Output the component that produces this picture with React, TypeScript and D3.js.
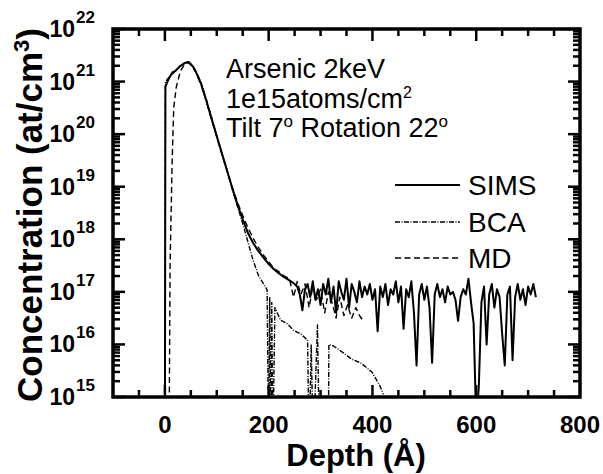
import React, { useEffect, useRef } from 'react';
import * as d3 from 'd3';

// depth in Angstrom, concentration given as log10(at/cm^3)
const simsDepth = [0, 1, 5, 10, 15, 20, 25, 30, 35, 40, 45, 50, 55, 60, 70, 80, 90, 100, 110, 120, 130, 140, 150, 160, 170, 180, 190, 200, 210, 220, 230, 240, 250,
  255, 260, 265, 270, 275, 280, 285, 290, 295, 300, 305, 310, 315, 320, 325, 330, 335, 340, 345, 350, 355, 360, 365, 370, 375, 380, 385, 390, 395, 400,
  405, 410, 415, 420, 425, 430, 435, 440, 445, 450, 455, 460, 465, 470, 475, 480, 485, 490, 495, 500, 505, 510, 515, 520, 525, 530, 535, 540, 545, 550,
  555, 560, 565, 570, 575, 580, 585, 590, 595, 600, 605, 610, 615, 620, 625, 630, 635, 640, 645, 650, 655, 660, 665, 670, 675, 680, 685, 690, 695, 700,
  705, 710, 715];
const simsLog = [14, 20.9, 21.0, 21.1, 21.18, 21.2, 21.25, 21.3, 21.33, 21.36, 21.37, 21.33, 21.27, 21.18, 20.95, 20.63, 20.29, 19.96, 19.63, 19.3, 18.97, 18.66, 18.38, 18.12, 17.93, 17.78, 17.65, 17.53, 17.43, 17.35, 17.28, 17.22, 17.15,
  17.1, 16.95, 16.65, 17.05, 17.15, 16.9, 17.2, 16.85, 17.05, 16.75, 17.15, 16.95, 17.25, 16.8, 17.1, 16.6, 17.2, 17.0, 16.85, 17.25, 16.7, 17.15, 17.0, 16.8, 17.2, 16.9, 17.1, 16.95, 17.15, 16.85,
  17.05, 16.25, 17.1, 16.9, 17.15, 16.75, 17.05, 16.95, 17.2, 16.8, 17.1, 16.3, 17.05, 16.9, 17.2, 16.6, 15.6, 16.95, 17.15, 16.85, 17.1, 16.7, 15.65, 16.95, 17.15, 16.9, 17.05, 16.8, 17.1, 16.95,
  17.0, 16.85, 16.45, 16.9, 17.05, 16.95, 17.25, 16.8, 16.4, 14.5, 15.2, 16.8, 17.1, 16.0, 16.95, 17.15, 16.7, 17.05, 16.9, 16.2, 15.6, 16.95, 17.1, 15.7, 16.9, 17.15, 16.85, 17.05, 16.75, 17.1,
  16.95, 17.15, 16.9];

const bcaDepth = [0, 1, 10, 20, 30, 40, 45, 50, 60, 70, 80, 90, 100, 110, 120, 130, 140, 150, 160, 170, 180, 190, 197, 200, 202, 204, 206, 208, 212, 223, 235, 248, 262, 275, 278, 282, 286, 294, 298,
  315, 316, 325, 344, 360, 377, 390, 400, 415, 421];
const bcaLog = [14, 21.0, 21.1, 21.2, 21.3, 21.36, 21.38, 21.35, 21.2, 20.97, 20.66, 20.32, 19.97, 19.63, 19.3, 18.95, 18.62, 18.3, 17.95, 17.6, 17.32, 17.15, 17.04, 14, 16.9, 14, 16.8, 14, 16.7, 16.46, 16.4, 16.27, 16.2, 16.08, 14, 16.0, 14, 16.37, 14,
  14, 16.0, 15.97, 15.84, 15.72, 15.65, 15.55, 15.46, 15.2, 15.05];

const mdDepth = [8, 10, 14, 17, 22, 30, 38, 45, 52, 60, 70, 80, 90, 100, 110, 120, 130, 140, 150, 160, 170, 180, 190, 200, 210, 220, 230, 240,
  248, 255, 262, 270, 278, 285, 292, 300, 308, 315, 322, 330, 337, 345, 352, 360, 368, 375, 382];
const mdLog = [14, 17.5, 19.5, 20.5, 20.9, 21.2, 21.33, 21.36, 21.3, 21.17, 20.93, 20.62, 20.28, 19.95, 19.62, 19.3, 18.98, 18.7, 18.45, 18.22, 18.02, 17.85, 17.7, 17.57, 17.45, 17.38, 17.3, 17.25,
  16.9, 17.2, 16.95, 17.15, 16.7, 17.1, 16.85, 17.05, 16.6, 17.0, 16.8, 16.5, 16.9, 16.55, 16.75, 16.5, 16.7, 16.55, 16.45];

const xTicks = [0, 200, 400, 600, 800];
const yExps = [15, 16, 17, 18, 19, 20, 21, 22];
const legendNames = ['SIMS', 'BCA', 'MD'];
const infoLines = ['Arsenic 2keV', '1e15atoms/cm', 'Tilt 7'];

const font = 'Liberation Sans, Arial, sans-serif';

const App = () => {
  const svgRef = useRef<SVGSVGElement>(null);

  useEffect(() => {
    document.body.style.margin = '0';
    const width = 603, height = 474;
    const left = 113, right = 580, top = 29, bottom = 397;

    const svg = d3.select(svgRef.current)
      .attr('width', width)
      .attr('height', height)
      .style('display', 'block')
      .style('background', '#fff');
    svg.selectAll('*').remove();

    const x = d3.scaleLinear().domain([-100, 800]).range([left, right]);
    const y = d3.scaleLog().domain([1e15, 1e22]).range([bottom, top]);

    svg.append('clipPath').attr('id', 'plot-clip')
      .append('rect')
      .attr('x', left).attr('y', top)
      .attr('width', right - left).attr('height', bottom - top);

    const line = d3.line<[number, number]>()
      .x(d => x(d[0]))
      .y(d => y(Math.pow(10, d[1])));

    const series = [
      { pts: d3.zip(simsDepth, simsLog) as [number, number][], width: 2, dash: null },
      { pts: d3.zip(bcaDepth, bcaLog) as [number, number][], width: 1.4, dash: '5,1.5,1,1.5' },
      { pts: d3.zip(mdDepth, mdLog) as [number, number][], width: 1.4, dash: '6,3.5' },
    ];

    const plot = svg.append('g').attr('clip-path', 'url(#plot-clip)');
    series.forEach(s => {
      plot.append('path')
        .datum(s.pts)
        .attr('fill', 'none')
        .attr('stroke', '#000')
        .attr('stroke-width', s.width)
        .attr('stroke-dasharray', s.dash)
        .attr('stroke-linejoin', 'round')
        .attr('d', line);
    });

    // ticks, all pointing inward
    const ticks = svg.append('g').attr('stroke', '#000').attr('stroke-width', 2.5);
    const majorLen = 12, minorLen = 7;
    for (let v = -50; v < 800; v += 50) {
      const len = xTicks.includes(v) ? majorLen : minorLen;
      ticks.append('line').attr('x1', x(v)).attr('x2', x(v)).attr('y1', bottom).attr('y2', bottom - len);
      ticks.append('line').attr('x1', x(v)).attr('x2', x(v)).attr('y1', top).attr('y2', top + len);
    }
    yExps.forEach(e => {
      const vals = e < 22 ? [1, 2, 3, 4, 5, 6, 7, 8, 9] : [1];
      vals.forEach(m => {
        const yy = y(m * Math.pow(10, e));
        const len = m === 1 ? majorLen : minorLen;
        ticks.append('line').attr('x1', left).attr('x2', left + len).attr('y1', yy).attr('y2', yy);
        ticks.append('line').attr('x1', right).attr('x2', right - len).attr('y1', yy).attr('y2', yy);
      });
    });

    // frame
    svg.append('rect')
      .attr('x', left).attr('y', top)
      .attr('width', right - left).attr('height', bottom - top)
      .attr('fill', 'none').attr('stroke', '#000').attr('stroke-width', 3.5);

    // tick labels
    svg.append('g').selectAll('text').data(xTicks).join('text')
      .attr('x', d => x(d)).attr('y', 433)
      .attr('text-anchor', 'middle')
      .style('font-family', font).style('font-weight', 'bold').style('font-size', '24px')
      .text(d => d);

    const yl = svg.append('g').style('font-family', font).style('font-weight', 'bold');
    yExps.forEach(e => {
      const yy = y(Math.pow(10, e));
      yl.append('text').attr('x', 75).attr('y', yy + 8).attr('text-anchor', 'end')
        .style('font-size', '23px').text('10');
      yl.append('text').attr('x', 76).attr('y', yy - 6)
        .style('font-size', '17px').text(e);
    });

    // axis titles
    svg.append('text')
      .attr('x', 356).attr('y', 466)
      .attr('text-anchor', 'middle')
      .style('font-family', font).style('font-weight', 'bold').style('font-size', '31px')
      .text('Depth (\u00C5)');

    const yt = svg.append('text')
      .attr('transform', 'translate(42,215) rotate(-90)')
      .attr('text-anchor', 'middle')
      .style('font-family', font).style('font-weight', 'bold').style('font-size', '35px');
    yt.append('tspan').text('Concentration (at/cm');
    yt.append('tspan').attr('dy', -13).style('font-size', '22px').text('3');
    yt.append('tspan').attr('dy', 13).text(')');

    // annotation
    const info = svg.append('g').style('font-family', font).style('font-size', '27px');
    info.append('text').attr('x', 226).attr('y', 78).text(infoLines[0]);
    const t2 = info.append('text').attr('x', 226).attr('y', 108);
    t2.append('tspan').text(infoLines[1]);
    t2.append('tspan').attr('dy', -10).style('font-size', '16px').text('2');
    const t3 = info.append('text').attr('x', 226).attr('y', 137);
    t3.append('tspan').text(infoLines[2]);
    t3.append('tspan').attr('dy', -10).style('font-size', '17px').text('o');
    t3.append('tspan').attr('dy', 10).text(' Rotation 22');
    t3.append('tspan').attr('dy', -10).style('font-size', '17px').text('o');

    // legend
    const legendY = [195, 232, 268];
    legendNames.forEach((name, i) => {
      svg.append('line')
        .attr('x1', 395).attr('x2', 460)
        .attr('y1', legendY[i] - 10).attr('y2', legendY[i] - 10)
        .attr('stroke', '#000')
        .attr('stroke-width', series[i].width)
        .attr('stroke-dasharray', series[i].dash);
      svg.append('text')
        .attr('x', 468).attr('y', legendY[i])
        .style('font-family', font).style('font-size', '28px')
        .text(name);
    });
  }, []);

  return <svg ref={svgRef}></svg>;
};

export default App;
